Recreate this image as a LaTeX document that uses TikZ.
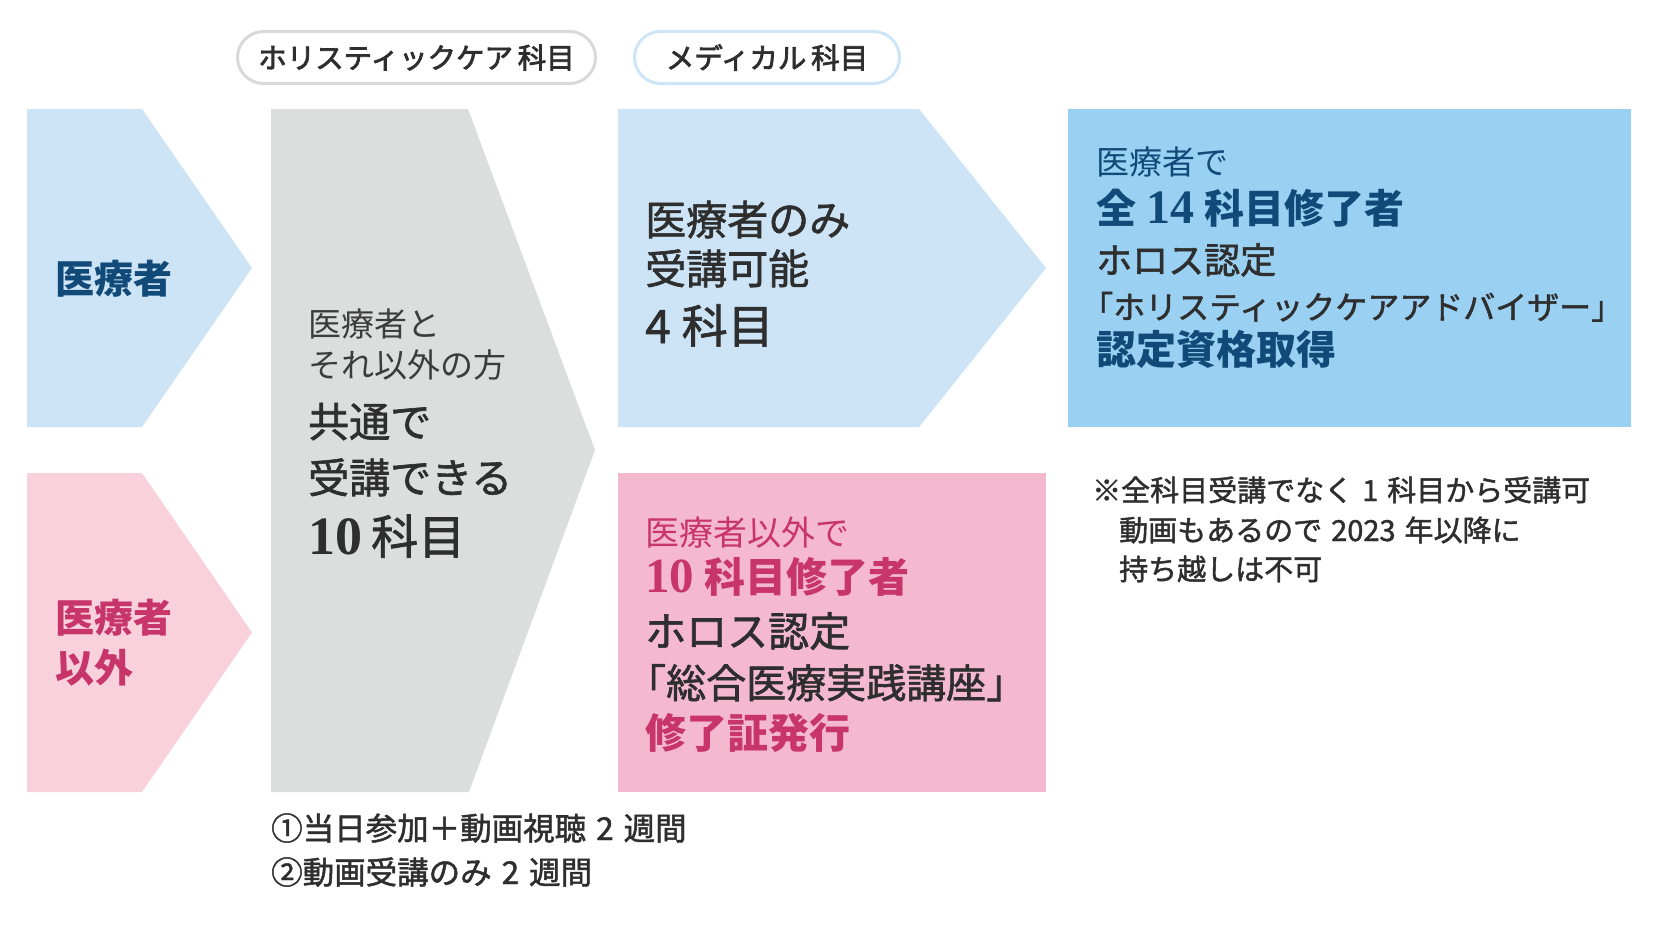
\documentclass[tikz,border=0pt]{standalone}
\usepackage{fontspec}
\setmainfont{Noto Sans CJK JP}
\newfontfamily\jpm{Noto Sans CJK JP}[FakeBold=1.5]
\newfontfamily\jpp{Noto Sans CJK JP}[FakeBold=2.5]
\newfontfamily\sern{Liberation Serif}
\newcommand\fsz[1]{\fontsize{#1}{#1}\selectfont}
\definecolor{lblue}{HTML}{CCE4F5}
\definecolor{mblue}{HTML}{9AD0F1}
\definecolor{lgray}{HTML}{DCDDDD}
\definecolor{lpink}{HTML}{F8D1DC}
\definecolor{mpink}{HTML}{F5B9CF}
\definecolor{navy}{HTML}{114A78}
\definecolor{mag}{HTML}{C8356A}
\definecolor{ink}{HTML}{2E2E2E}
\definecolor{inkl}{HTML}{3C3C3C}
\definecolor{pillgray}{HTML}{D9D9D9}
\definecolor{pillblue}{HTML}{CDE6F7}
\tikzset{
  txt/.style={inner sep=0pt, anchor=base west},
  pill/.style={rounded corners=26pt, line width=3pt, fill=white, inner sep=0pt, text=ink},
}
\begin{document}
\begin{tikzpicture}[x=1pt,y=-1pt]
\useasboundingbox[fill=white] (0,0) rectangle (1667,942);
% shapes
\fill[lblue] (27,109) -- (142,109) -- (252,268) -- (142,427) -- (27,427) -- cycle;
\fill[lpink] (27,473) -- (142,473) -- (252,632.5) -- (142,792) -- (27,792) -- cycle;
\fill[lgray] (271,109) -- (468,109) -- (595,450) -- (469,792) -- (271,792) -- cycle;
\fill[lblue] (618,109) -- (919,109) -- (1046,268) -- (919,427) -- (618,427) -- cycle;
\fill[mpink] (618,473) rectangle (1046,792);
\fill[mblue] (1068,109) rectangle (1631,427);
% pills
\node (pillA) [pill, draw=pillgray, minimum width=358pt, minimum height=52pt] at (416.5,57.5) {\jpp\fsz{28.5}ホリスティックケア\,科目};
\node (pillB) [pill, draw=pillblue, minimum width=265pt, minimum height=52pt] at (767,57.5) {\jpp\fsz{28.5}メディカル\,科目};
% left chevrons
\node (ml) [txt, text=navy] at (55,293) {\bfseries\fsz{39}医療者};
\node (nl1) [txt, text=mag] at (55,632) {\bfseries\fsz{39}医療者};
\node (nl2) [txt, text=mag] at (55,682) {\bfseries\fsz{39}以外};
% gray chevron
\node (g1) [txt, text=inkl] at (308,336) {\fsz{33}医療者と};
\node (g2) [txt, text=inkl] at (308,377) {\fsz{33}それ以外の方};
\node (g3) [txt, text=ink] at (308,437) {\jpm\fsz{41}共通で};
\node (g4) [txt, text=ink] at (308,493) {\jpm\fsz{41}受講できる};
\node (g5) [txt, text=ink] at (308,554) {{\sern\bfseries\fsz{54}10}\hspace{9pt}{\jpm\fsz{47}科目}};
% medical chevron
\node (b1) [txt, text=ink] at (645,235) {\jpm\fsz{41}医療者のみ};
\node (b2) [txt, text=ink] at (645,284) {\jpm\fsz{41}受講可能};
\node (b3) [txt, text=ink] at (645,343) {\jpm\fsz{46}4\hspace{11pt}科目};
% right blue box
\node (r1) [txt, text=navy] at (1096,174.5) {\fsz{33}医療者で};
\node (r2) [txt, text=navy] at (1096,223.5) {\bfseries\fsz{40}全\hspace{10pt}{\sern\bfseries\fsz{48}14}\hspace{10pt}科目修了者};
\node (r3) [txt, text=ink] at (1096,273.5) {\jpm\fsz{36}ホロス認定};
\node (r4) [txt, text=ink] at (1081,319) {\jpm\fsz{32}「ホリスティックケアアドバイザー」};
\node (r5) [txt, text=navy] at (1096,364) {\bfseries\fsz{40}認定資格取得};
% pink box
\node (p1) [txt, text=mag] at (645,545) {\fsz{34}医療者以外で};
\node (p2) [txt, text=mag] at (645,592.5) {\bfseries\fsz{41}{\sern\bfseries\fsz{49}10}\hspace{10pt}科目修了者};
\node (p3) [txt, text=ink] at (645,646.5) {\jpm\fsz{41}ホロス認定};
\node (p4) [txt, text=ink] at (626,698) {\jpm\fsz{40}「総合医療実践講座」};
\node (p5) [txt, text=mag] at (645,748.5) {\bfseries\fsz{41}修了証発行};
% note
\node (n1) [txt, text=ink] at (1092,501) {\jpm\fsz{29}※全科目受講でなく\hspace{9pt}1\hspace{9pt}科目から受講可};
\node (n2) [txt, text=ink] at (1119,541) {\jpm\fsz{29}動画もあるので\hspace{9pt}2023\hspace{9pt}年以降に};
\node (n3) [txt, text=ink] at (1119,580) {\jpm\fsz{29}持ち越しは不可};
% bottom
\node (f1) [txt, text=ink] at (271,840) {\jpm\fsz{31.5}①当日参加＋動画視聴\hspace{10pt}2\hspace{10pt}週間};
\node (f2) [txt, text=ink] at (271,884) {\jpm\fsz{31.5}②動画受講のみ\hspace{10pt}2\hspace{10pt}週間};
\end{tikzpicture}
\end{document}
